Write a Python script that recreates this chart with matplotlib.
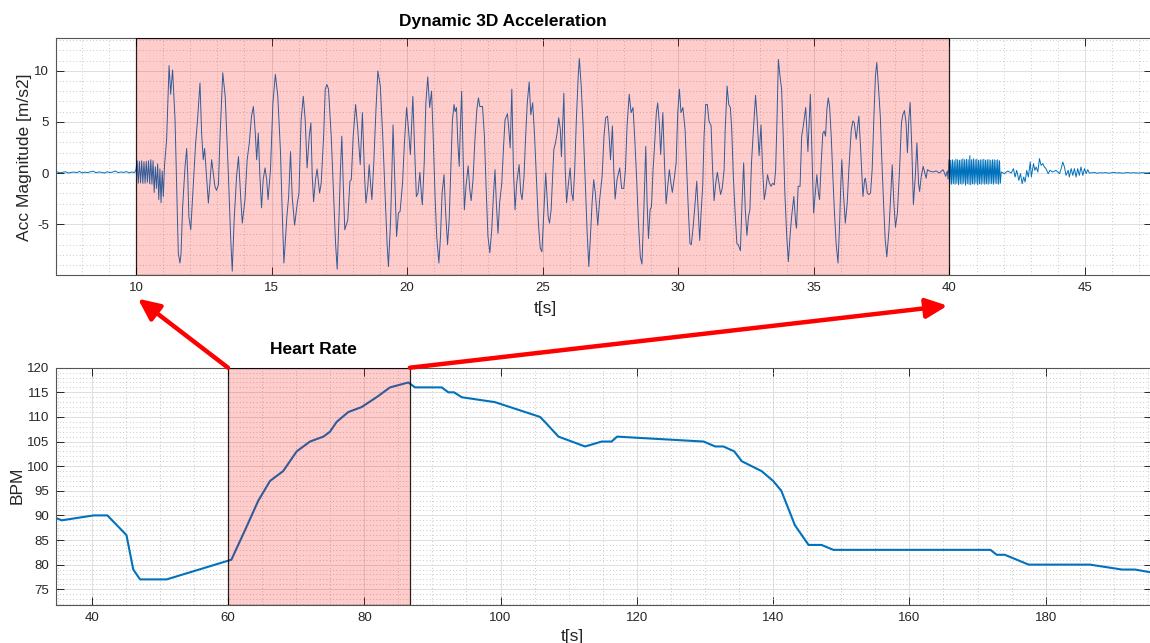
import numpy as np
import matplotlib
matplotlib.use('Agg')
import matplotlib.pyplot as plt
from matplotlib.patches import ConnectionPatch
from matplotlib.ticker import MultipleLocator

plt.rcParams['font.family'] = ['Liberation Sans', 'DejaVu Sans']
plt.rcParams['axes.unicode_minus'] = False

# ---------------- Data: dynamic 3D acceleration magnitude [m/s2] ----------------
# quiet baseline before the exercise (7.0 s .. 9.95 s)
acc_pre_v = [0.05, 0.1, 0.02, 0.08, 0.12, 0.0, 0.06, 0.1, 0.04, 0.15, 0.02, 0.08, 0.05, 0.12, 0.18,
             0.03, 0.1, 0.07, 0.0, 0.12, 0.05, 0.09, 0.2, 0.04, 0.1, 0.06, 0.14, 0.02, 0.1, 0.05]
# fast vibration burst (10.0 s .. 11.05 s)
acc_burst1_v = [0.3, 1.2, -1.0, 1.15, -0.95, 1.2, -1.0, 1.1, -1.0, 1.15, -0.9, 1.2, -1.05, 1.3,
                -1.1, 1.2, -1.9, 0.6, -1.5, 0.9, -2.6, 0.4, -2.9, 0.2, -2.3, 0.65]
# main activity (11.13 s .. 39.92 s)
acc_main_t = [11.13, 11.22, 11.28, 11.30, 11.35, 11.44, 11.50, 11.56, 11.62, 11.66, 11.72, 11.81, 11.87, 11.91,
              11.95, 12.02, 12.11, 12.20, 12.27, 12.36, 12.42, 12.48, 12.53, 12.61, 12.67, 12.79, 12.91, 12.97,
              13.04, 13.10, 13.20, 13.29, 13.40, 13.49, 13.55, 13.62, 13.71, 13.78, 13.86, 13.92, 14.02, 14.10,
              14.18, 14.26, 14.33, 14.40, 14.45, 14.51, 14.57, 14.63, 14.69, 14.76, 14.82, 14.87,
              14.96, 15.05, 15.14, 15.23, 15.33, 15.39, 15.455, 15.52, 15.565, 15.63, 15.70, 15.76, 15.85, 15.95,
              16.01, 16.09, 16.17, 16.24, 16.31, 16.39, 16.45, 16.50, 16.55, 16.62, 16.68, 16.77, 16.83, 16.92,
              16.98, 17.04, 17.10, 17.20, 17.30, 17.36, 17.42, 17.48, 17.54, 17.59, 17.65, 17.70, 17.81, 17.89,
              17.94, 18.01, 18.10, 18.18, 18.27, 18.35, 18.43, 18.48, 18.55, 18.60, 18.65, 18.70, 18.77, 18.85,
              18.92, 19.01, 19.10, 19.19, 19.26, 19.31, 19.39, 19.44, 19.48, 19.55, 19.61, 19.68, 19.74, 19.83,
              19.90, 19.98,
              20.05, 20.12, 20.21, 20.28, 20.34, 20.40, 20.47, 20.53, 20.56, 20.63, 20.69, 20.76, 20.83, 20.90,
              20.96, 21.03, 21.09, 21.17, 21.23, 21.29, 21.36, 21.42, 21.49, 21.55, 21.61, 21.67, 21.73, 21.77,
              21.82, 21.87, 21.92, 21.96, 22.01, 22.06, 22.11, 22.17, 22.25, 22.31, 22.36, 22.43, 22.50, 22.57,
              22.63, 22.68, 22.78, 22.85, 22.91, 22.98, 23.05, 23.12, 23.18, 23.24, 23.29, 23.35, 23.41, 23.49,
              23.55, 23.61, 23.70, 23.75, 23.80, 23.86, 23.92, 23.98, 24.04, 24.13, 24.19, 24.24, 24.31, 24.37,
              24.43, 24.50, 24.56, 24.63, 24.70, 24.78, 24.84, 24.91, 24.97, 25.04, 25.11,
              25.20, 25.25, 25.31, 25.41, 25.47, 25.53, 25.59, 25.65, 25.69, 25.78, 25.83, 25.88, 25.95, 26.01,
              26.07, 26.12, 26.18, 26.24, 26.31, 26.35, 26.42, 26.49, 26.56, 26.64, 26.70, 26.76, 26.82, 26.88,
              26.94, 27.03, 27.10, 27.19, 27.26, 27.32, 27.39, 27.45, 27.50, 27.57, 27.62, 27.67, 27.74, 27.84,
              27.91, 27.99, 28.05, 28.11, 28.19, 28.26, 28.33, 28.39, 28.46, 28.53, 28.60, 28.66, 28.73, 28.80,
              28.85, 28.90, 28.96, 29.01, 29.07, 29.13, 29.19, 29.24, 29.30, 29.35, 29.43, 29.49, 29.55, 29.61,
              29.67, 29.73, 29.78, 29.86, 29.92, 29.98, 30.04, 30.10, 30.17,
              30.25, 30.31, 30.37, 30.43, 30.48, 30.55, 30.62, 30.68, 30.74, 30.79, 30.84, 30.90, 30.95, 31.01,
              31.07, 31.13, 31.21, 31.26, 31.32, 31.38, 31.44, 31.50, 31.56, 31.62, 31.69, 31.73, 31.80, 31.86,
              31.92, 31.97, 32.03, 32.09, 32.16, 32.21, 32.29, 32.35, 32.41, 32.47, 32.53, 32.59, 32.64, 32.70,
              32.77, 32.85, 32.91, 32.98, 33.05, 33.11, 33.17, 33.23, 33.29, 33.36, 33.42, 33.48, 33.54, 33.59,
              33.64, 33.69, 33.75, 33.81, 33.87, 33.93, 34.00, 34.06, 34.12, 34.18, 34.26, 34.33, 34.36, 34.42,
              34.49, 34.55, 34.61, 34.70, 34.74, 34.78, 34.87, 34.93, 34.99, 35.05, 35.11, 35.17, 35.21,
              35.27, 35.33, 35.38, 35.43, 35.48, 35.53, 35.58, 35.64, 35.70, 35.76, 35.82, 35.89, 35.95, 35.99,
              36.03, 36.09, 36.16, 36.23, 36.29, 36.38, 36.44, 36.49, 36.56, 36.66, 36.72, 36.81, 36.87, 36.90,
              36.97, 37.03, 37.09, 37.15, 37.21, 37.27, 37.32, 37.38, 37.45, 37.51, 37.57, 37.63, 37.69, 37.77,
              37.83, 37.89, 37.95, 38.01, 38.08, 38.16, 38.23, 38.28, 38.34, 38.40, 38.45, 38.50, 38.55, 38.61,
              38.67, 38.74, 38.80, 38.86, 38.90, 38.96, 39.03, 39.09, 39.14, 39.19, 39.26, 39.39, 39.51, 39.63,
              39.76, 39.82, 39.86, 39.92]
acc_main_v = [3.3, 10.5, 7.7, 8.5, 10.07, 5.2, -1.3, -7.8, -8.8, -8.0, -3.3, 0.65, 2.4, -0.3,
              -4.25, -5.55, -1.3, 2.95, 5.2, 8.8, 3.9, 1.3, 2.4, -0.65, -2.94, 1.3, -1.3, -1.7,
              -1.15, 3.6, 9.8, 7.5, 0.33, -6.2, -9.6, -4.6, -0.3, 1.6, -2.3, -4.9, -2.6, 1.3,
              2.95, 5.56, 6.5, 3.9, 1.3, 3.9, -0.33, -3.4, -0.65, 0.5, -0.65, -2.6,
              0.33, 6.86, 9.64, 7.5, 2.0, -3.6, -8.8, -6.2, -4.25, -2.3, 2.1, -2.3, -5.1, -2.9,
              -1.96, 5.2, 7.5, 5.2, 0.5, 3.6, 4.9, -0.33, -2.8, -0.65, 0.4, -1.96, -1.0, 3.6,
              8.2, 8.66, 8.2, 3.6, -2.94, -6.9, -9.4, -4.9, 0.33, 3.6, -1.6, -5.55, -4.6, -0.8,
              -0.65, 3.6, 6.7, 4.25, 0.82, 5.9, -0.33, -2.94, -1.3, 0.82, -1.0, -2.6, 1.0, 6.2,
              9.97, 8.5, 3.6, -2.3, -6.9, -9.15, -4.6, 0.33, 4.7, -1.3, -6.2, -3.9, -3.75, -1.0,
              2.95, 6.4,
              4.25, 1.8, 7.5, 2.0, -2.3, -1.96, 0.07, -2.3, -3.1, 1.0, 6.86, 9.4, 6.4, 8.0,
              3.6, -2.3, -6.2, -8.8, -6.2, -1.96, -0.16, -3.9, -7.0, -4.6, 0.33, 5.2, 6.7, 6.0,
              6.4, 2.95, 0.65, 4.25, 8.0, 2.0, -3.6, -1.3, 0.7, -1.6, -2.7, -0.65, 3.27, 6.2,
              7.35, 6.5, 6.5, 3.6, -1.3, -6.2, -7.8, -5.55, -2.3, 0.33, -2.94, -5.9, -2.94, -1.0,
              2.3, 5.2, 5.8, 4.25, 2.45, 8.2, 0.33, -3.6, -1.0, 0.82, -1.96, -2.6, -0.33, 3.6,
              6.86, 8.9, 5.7, 6.86, 3.6, -1.3, -4.9, -7.35, -7.7, -3.9, 0.0,
              -4.25, -4.9, -3.6, 2.3, 2.95, 3.9, 5.4, 4.25, 1.6, 7.8, 0.33, -2.9, -0.98, 0.5,
              -1.96, -2.7, 0.33, 5.2, 9.5, 11.2, 8.5, 4.6, -0.33, -5.9, -9.15, -6.2, -2.94, -0.65,
              -1.96, -5.1, -2.6, -0.33, 3.6, 5.4, 5.56, 3.6, 1.3, 4.6, 0.33, -2.55, -0.65, 0.5,
              -1.5, -1.5, 0.33, 4.6, 7.7, 5.9, 6.4, 3.6, -0.33, -4.9, -8.2, -8.9, -3.6, 2.6,
              -2.94, -6.4, -3.6, -3.3, 0.33, 2.95, 5.9, 6.86, 4.9, 1.8, 5.9, 1.0, -3.0, -1.3,
              0.33, -1.0, -1.9, -0.33, 1.0, 5.9, 8.2, 5.9, 6.4,
              4.25, 0.33, -3.6, -6.9, -7.0, -5.2, -2.94, -0.8, -3.9, -6.6, -3.9, -1.3, 3.6, 6.7,
              6.7, 5.1, 4.6, 0.65, -2.7, -1.0, 0.07, -1.0, -2.1, -1.5, 0.33, 4.25, 8.5, 6.7,
              6.4, 4.25, -0.33, -3.6, -6.9, -7.0, -7.6, -2.94, 1.0, -3.6, -6.1, -4.25, -3.6, 1.0,
              4.25, 7.6, 5.2, 1.7, 4.7, 0.33, -2.6, -1.6, -0.16, -1.0, -1.3, -1.0, -1.15, 0.33,
              5.2, 11.1, 9.5, 8.2, 3.6, -1.96, -6.2, -8.66, -6.2, -4.25, -2.3, -4.9, -5.4, -1.3,
              -1.3, 3.6, 4.6, 6.4, 4.25, 2.1, 7.7, 2.0, -3.9, -2.0, -0.16, -2.0, -2.6,
              0.98, 3.9, 4.1, 3.6, 6.2, 7.35, 6.5, 3.6, -0.33, -3.9, -6.9, -8.8, -4.9, -1.3,
              1.3, -1.96, -4.9, -2.94, 0.33, 4.25, 5.1, 4.9, 3.3, 5.56, 2.6, -2.3, -0.65, -0.5,
              -1.96, -2.1, -1.96, 0.33, 5.2, 9.5, 10.8, 8.5, 5.56, 1.0, -2.94, -6.5, -8.2, -5.55,
              -2.3, 0.8, -2.94, -5.3, -3.9, 0.33, 4.9, 5.7, 6.1, 4.9, 2.0, 5.2, 6.9, 2.6,
              -3.1, -0.33, 2.95, -1.0, -1.8, -0.33, 0.65, 0.0, -0.5, 0.33, 0.2, 0.1, 0.2, 0.0,
              0.33, 0.0, -0.33, 0.2]
# fast vibration burst after the exercise (39.95 s .. 41.91 s)
acc_burst2_v = [-0.6, 1.3, -1.0, 1.25, -1.1, 1.3, -1.05, 1.2, -1.1, 1.35, -1.0, 1.3, -1.15, 1.25,
                -1.05, 1.3, -1.1, 1.4, -1.0, 1.3, -1.2, 1.35, -1.05, 1.3, -1.1, 1.7, -1.15, 1.3,
                -1.05, 1.4, -1.1, 1.3, -1.0, 1.35, -1.15, 1.25, -1.05, 1.3, -1.1, 1.3, -1.0, 1.35,
                -1.1, 1.25, -1.05, 1.3, -1.1, 1.3, -1.0, 1.25, -1.05, 1.3, -1.1, 1.3, -1.0, 1.25,
                -1.05, 1.3, -1.1, 1.2, -1.0, 0.1]
# settling after the exercise
acc_post_t = [42.03, 42.15, 42.28, 42.36, 42.42, 42.48, 42.56, 42.62, 42.68, 42.74, 42.79, 42.85,
              42.91, 42.98, 43.02, 43.10, 43.15, 43.20, 43.26, 43.32, 43.38, 43.44, 43.50, 43.56, 43.64,
              43.71, 43.81, 43.93, 44.06, 44.12, 44.18, 44.24, 44.30, 44.38, 44.42, 44.49, 44.55, 44.61,
              44.67, 44.73, 44.79, 44.85, 44.92, 44.98, 45.04, 45.10, 45.16]
acc_post_v = [-0.06, 0.2, 0.0, 0.43, -0.39, 0.26, -0.72, -0.06, -1.04, -0.39, -0.88, 0.26,
              -0.39, 1.08, -0.39, 0.92, 0.26, 0.59, 0.1, 1.41, 0.75, 0.92, 0.59, 0.43, -0.06,
              0.26, 0.1, 0.26, -0.06, 0.43, 1.08, 0.59, -0.23, 0.26, -0.39, 0.43, -0.23, 0.43,
              -0.39, 0.43, -0.23, 0.59, -0.23, 0.43, -0.06, 0.33, 0.0]
# quiet tail (45.25 s .. 47.5 s)
acc_tail_v = [0.02, 0.05, -0.02, 0.03, 0.0, 0.04, -0.01, 0.02, 0.05, 0.0, 0.03, -0.02, 0.02, 0.04,
              0.0, 0.03, 0.01, -0.01, 0.03, 0.02, 0.0, 0.04, 0.01]

# ---------------- Data: heart rate [BPM] ----------------
hr_t = [34.7, 35.6, 40.3, 42.3, 45.1, 46.1, 47.1, 51.0, 60.5, 62.5, 64.45, 66.17, 68.1, 70.08, 72.03,
        74.0, 74.97, 75.95, 77.66, 79.6, 81.8, 83.78, 86.47, 87.45, 91.36, 92.34, 93.17, 94.3, 99.19,
        105.8, 106.5, 108.5, 112.4, 114.85, 116.3, 117.1, 129.8, 131.5, 132.7, 134.3, 135.4, 138.3,
        140.0, 141.2, 143.2, 145.2, 147.1, 148.84, 171.9, 172.8, 174.0, 177.5, 186.5, 191.2, 193.1, 196.0]
hr_bpm = [89.5, 89, 90, 90, 86, 79, 77, 77, 81, 87, 93, 97, 99, 103, 105,
          106, 107, 109, 111, 112, 114, 116, 117, 116, 116, 115, 115, 114, 113,
          110, 109, 106, 104, 105, 105, 106, 105, 104, 104, 103, 101, 99,
          97, 95, 88, 84, 84, 83, 83, 82, 82, 80, 80, 79, 79, 78.3]

acc_window = (10, 40)       # highlighted accelerometer window [s]
hr_window = (60, 86.7)      # corresponding heart-rate window [s]

# ---------------- Figure ----------------
W, H = 1150, 643
fig = plt.figure(figsize=(W / 100, H / 100), dpi=100)
fig.patch.set_facecolor('white')

def px_rect(x0, y0, x1, y1):
    return [x0 / W, 1 - y1 / H, (x1 - x0) / W, (y1 - y0) / H]

ax1 = fig.add_axes(px_rect(56, 38, 1152, 275))
ax2 = fig.add_axes(px_rect(56, 367.7, 1152, 605))

line_c = '#0072BD'
axis_c = '#262626'

# acceleration trace
t_pre = np.linspace(7.0, 9.95, len(acc_pre_v))
t_b1 = np.linspace(10.0, 11.05, len(acc_burst1_v))
t_b2 = np.linspace(39.95, 41.91, len(acc_burst2_v))
t_tail = np.linspace(45.25, 47.5, len(acc_tail_v))
acc_t = np.concatenate([t_pre, t_b1, acc_main_t, t_b2, acc_post_t, t_tail])
acc_v = np.concatenate([acc_pre_v, acc_burst1_v, acc_main_v, acc_burst2_v, acc_post_v, acc_tail_v])
ax1.plot(acc_t, acc_v, color=line_c, lw=0.7, zorder=2)
ax1.axvspan(*acc_window, facecolor=(1, 0, 0, 0.2), edgecolor=(0, 0, 0, 0.85), lw=0.9, zorder=3)
ax1.set_xlim(7.05, 47.47)
ax1.set_ylim(-9.97, 13.2)
ax1.xaxis.set_major_locator(MultipleLocator(5))
ax1.yaxis.set_major_locator(MultipleLocator(5))
ax1.xaxis.set_minor_locator(MultipleLocator(1))
ax1.yaxis.set_minor_locator(MultipleLocator(1))

# heart rate trace
ax2.plot(hr_t, hr_bpm, color=line_c, lw=1.5, zorder=2)
ax2.axvspan(*hr_window, facecolor=(1, 0, 0, 0.2), edgecolor=(0, 0, 0, 0.85), lw=0.9, zorder=3)
ax2.set_xlim(34.76, 195.6)
ax2.set_ylim(71.8, 120)
ax2.xaxis.set_major_locator(MultipleLocator(20))
ax2.yaxis.set_major_locator(MultipleLocator(5))
ax2.xaxis.set_minor_locator(MultipleLocator(5))
ax2.yaxis.set_minor_locator(MultipleLocator(1))

for ax in (ax1, ax2):
    ax.set_axisbelow(True)
    ax.grid(which='major', color='#dedede', lw=0.7, ls='-')
    ax.grid(which='minor', color='#b8b8b8', lw=0.6, ls=(0, (1, 3)))
    ax.tick_params(which='major', direction='in', top=True, right=True, length=6, width=0.7,
                   color=axis_c, labelcolor=axis_c, labelsize=9.5, pad=5)
    ax.tick_params(which='minor', length=0, top=True, right=True)
    for s in ax.spines.values():
        s.set_color('#555555')
        s.set_linewidth(0.8)

# labels and titles (positions in figure pixels)
def ftext(x, y, s, **kw):
    fig.text(x / W, 1 - y / H, s, ha='center', va='center', **kw)

ftext(502.5, 21.5, 'Dynamic 3D Acceleration', fontsize=12.5, fontweight='bold', color='black')
ftext(313, 350, 'Heart Rate', fontsize=12.5, fontweight='bold', color='black')
ftext(25, 157, 'Acc Magnitude [m/s2]', fontsize=12.5, rotation=90, color=axis_c)
ftext(545, 309, 't[s]', fontsize=12.5, color=axis_c)
ftext(17.5, 485, 'BPM', fontsize=12.5, rotation=90, color=axis_c)
ftext(572, 636, 't[s]', fontsize=12.5, color=axis_c)

# red arrows linking the heart-rate window to the acceleration window
arrow_kw = dict(arrowstyle='-|>,head_length=1.3,head_width=0.6', mutation_scale=10,
                color='#ff0000', lw=3.2, shrinkA=0, shrinkB=0, zorder=10, clip_on=False)
fig.add_artist(ConnectionPatch(xyA=(hr_window[0], 120), coordsA=ax2.transData,
                               xyB=(10.07, -12.28), coordsB=ax1.transData, **arrow_kw))
fig.add_artist(ConnectionPatch(xyA=(hr_window[1], 120), coordsA=ax2.transData,
                               xyB=(39.93, -12.97), coordsB=ax1.transData, **arrow_kw))

fig.savefig('out.png', dpi=100, facecolor='white')
